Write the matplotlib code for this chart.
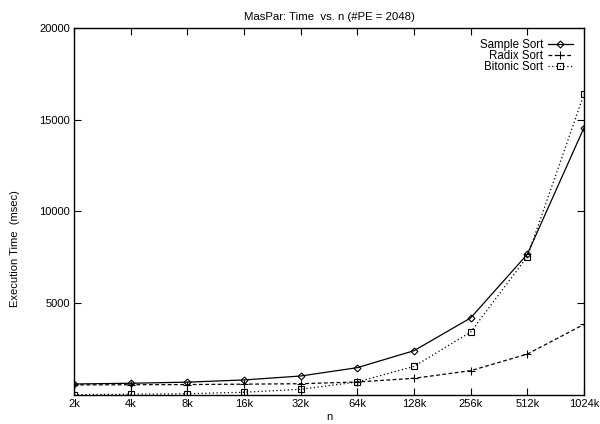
import matplotlib
matplotlib.use('Agg')
import matplotlib.pyplot as plt

plt.rcParams['font.family'] = ['Liberation Sans', 'DejaVu Sans']
plt.rcParams['font.size'] = 8

# problem sizes and execution times (msec) for each sort
sizes = ['2k', '4k', '8k', '16k', '32k', '64k', '128k', '256k', '512k', '1024k']
sample_sort = [600, 640, 700, 820, 1035, 1490, 2415, 4200, 7670, 14570]
radix_sort = [550, 560, 570, 590, 615, 710, 910, 1325, 2230, 3850]
bitonic_sort = [20, 40, 70, 150, 310, 710, 1560, 3430, 7540, 16400]

fig = plt.figure(figsize=(6.0, 4.24), dpi=100)
ax = fig.add_axes([74 / 600, 29 / 424, 510 / 600, 367 / 424])

x = range(len(sizes))
ax.plot(x, sample_sort, color='black', lw=0.9, ls='-', marker='D', ms=3.5,
        mfc='none', mew=0.8, label='Sample Sort')
ax.plot(x, radix_sort, color='black', lw=0.9, ls=(0, (3, 2)), marker='+', ms=6,
        mew=0.8, label='Radix Sort')
ax.plot(x, bitonic_sort, color='black', lw=0.9, ls=(0, (1, 2)), marker='s', ms=5,
        mfc='none', mew=0.8, label='Bitonic Sort')

ax.set_xlim(0, len(sizes) - 1)
ax.set_ylim(0, 20000)
ax.set_xticks(list(x))
ax.set_xticklabels(sizes)
ax.set_yticks([5000, 10000, 15000, 20000])
ax.tick_params(direction='in', length=5, width=0.8, top=True, right=True, pad=3,
               labelsize=8)
for spine in ax.spines.values():
    spine.set_linewidth(1.0)

ax.set_title('MasPar: Time  vs. n (#PE = 2048)', pad=6, fontsize=8.2)
ax.set_xlabel('n', labelpad=2)
ax.set_ylabel('Execution Time  (msec)')
ax.yaxis.set_label_coords(-0.106, 0.40)

ax.legend(loc='upper right', frameon=False, markerfirst=False, handlelength=2.2,
          handletextpad=0.4, labelspacing=-0.1, borderaxespad=0.55, fontsize=8.3)

fig.savefig('out.png', dpi=100)
